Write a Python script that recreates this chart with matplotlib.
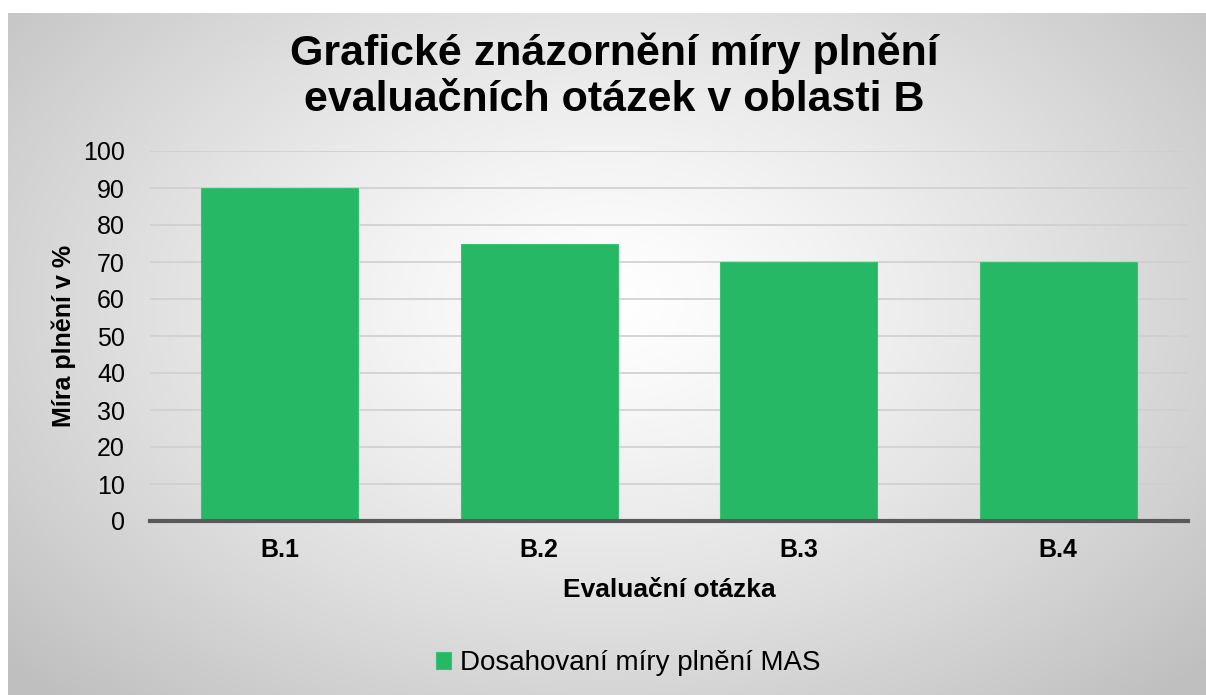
import numpy as np
import matplotlib
matplotlib.use("Agg")
from matplotlib import pyplot as plt

# data
kategorie = ["B.1", "B.2", "B.3", "B.4"]
hodnoty = [90, 75, 70, 70]
y_ticks = [0, 10, 20, 30, 40, 50, 60, 70, 80, 90, 100]

plt.rcParams['font.family'] = ['Liberation Sans', 'DejaVu Sans']

W, H = 1206, 695
fig = plt.figure(figsize=(W / 100, H / 100), dpi=100)
fig.patch.set_facecolor('white')

# radial gradient background panel
bg = fig.add_axes([8 / W, 0, 1 - 8 / W, (H - 13) / H], zorder=0)
gx, gy = np.meshgrid(np.linspace(-1, 1, 400), np.linspace(-1, 1, 240))
r = np.sqrt(gx ** 2 + ((gy + 0.15) * 0.85) ** 2) / 1.35
r = np.clip(r, 0, 1)
v = 1.0 - (1.0 - 0.75) * r ** 1.3
img = np.dstack([v, v, v])
bg.imshow(img, aspect='auto', extent=[0, 1, 0, 1], interpolation='bilinear')
bg.set_axis_off()

ax = fig.add_axes([150 / W, 1 - 521 / H, (1188 - 150) / W, (521 - 151) / H], zorder=1)
ax.set_facecolor('none')

x = np.arange(len(kategorie))
ax.bar(x, hodnoty, width=0.605, color='#27B865', edgecolor='#3CC277', linewidth=0.8,
       zorder=3, label='Dosahovaní míry plnění MAS')

ax.set_xlim(-0.5, 3.5)
ax.set_ylim(0, 100)
ax.set_yticks(y_ticks)
ax.set_xticks(x)
ax.set_xticklabels(kategorie, fontsize=18, fontweight='bold')
ax.tick_params(axis='y', labelsize=18, length=0, pad=18)
ax.tick_params(axis='x', length=0, pad=12)
ax.grid(axis='y', color='#cfcfcf', linewidth=1.2, zorder=0)

for s in ['top', 'right', 'left']:
    ax.spines[s].set_visible(False)
ax.spines['bottom'].set_color('#595959')
ax.spines['bottom'].set_linewidth(3)
ax.spines['bottom'].set_zorder(4)

ax.set_xlabel('Evaluační otázka', fontsize=19, fontweight='bold', labelpad=12)
ax.set_ylabel('Míra plnění v %', fontsize=18, fontweight='bold', labelpad=5)

fig.text(614 / W, 1 - 76 / H, 'Grafické znázornění míry plnění\nevaluačních otázek v oblasti B',
         ha='center', va='center', fontsize=31, fontweight='bold', linespacing=1.2)

leg = fig.legend(loc='center', bbox_to_anchor=(628 / W, 1 - 663 / H), frameon=False,
                 fontsize=20, handlelength=0.55, handleheight=0.55, handletextpad=0.3)

fig.savefig('out.png', dpi=100)
